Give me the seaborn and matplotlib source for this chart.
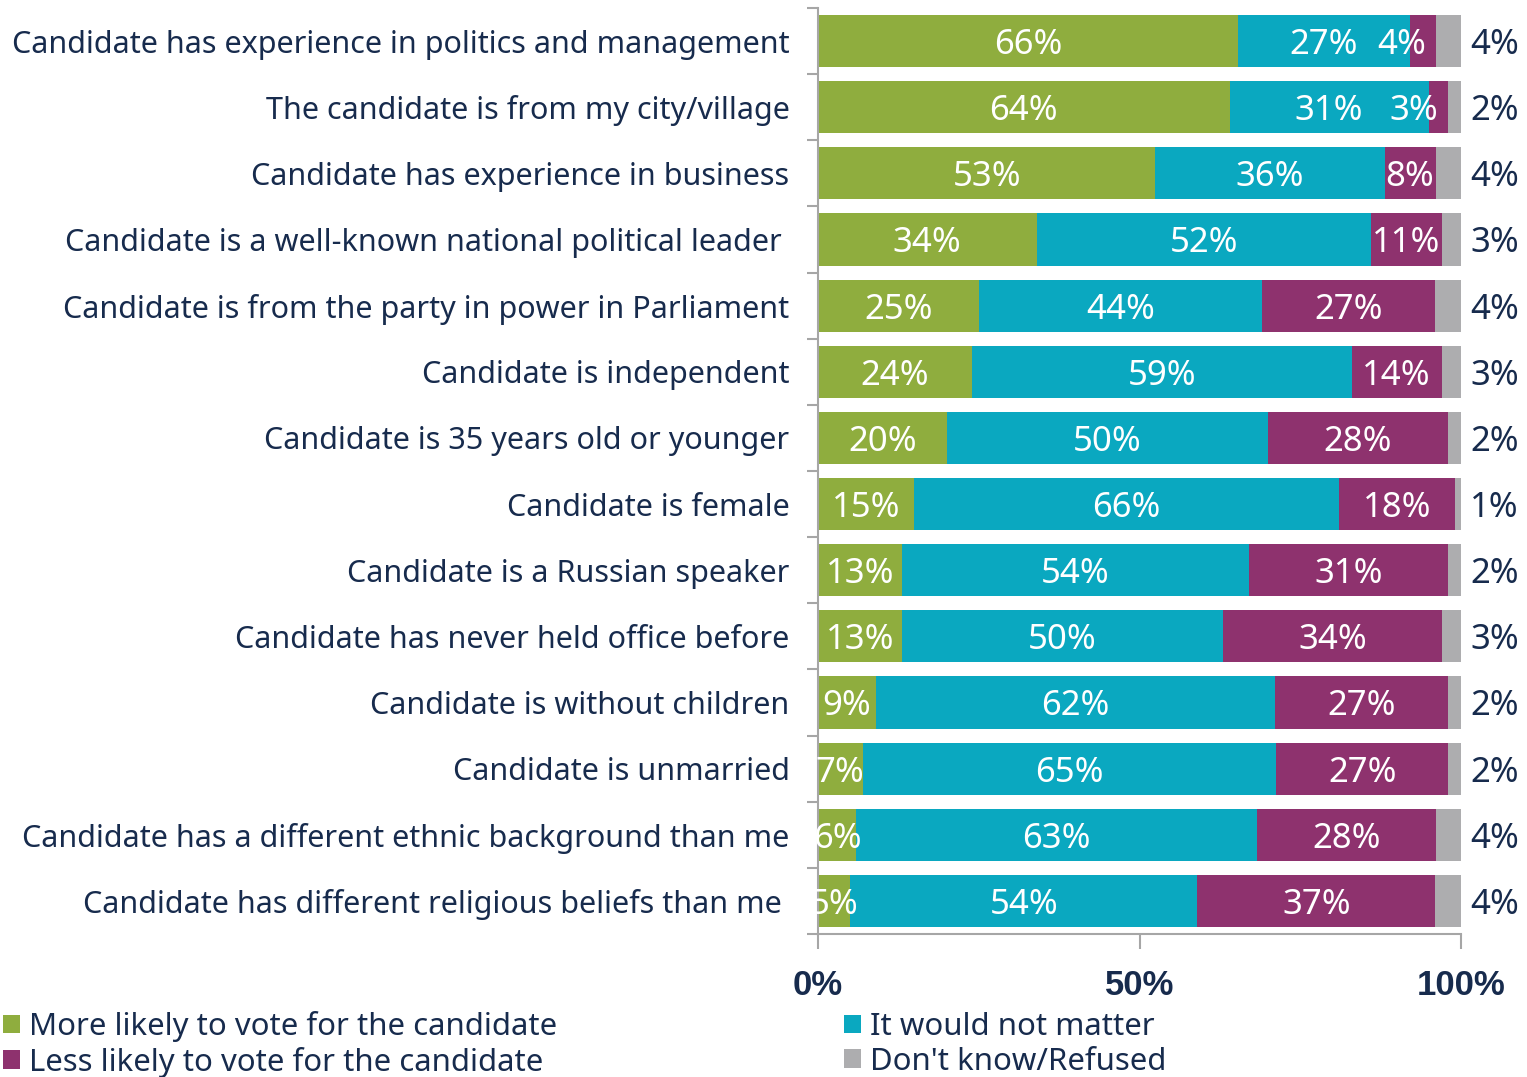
import matplotlib
matplotlib.use("Agg")
import matplotlib.pyplot as plt
from matplotlib.patches import Patch
import numpy as np
import pandas as pd
import seaborn as sns

# Survey items and response shares (%)
items = [
    "Candidate has experience in politics and management",
    "The candidate is from my city/village",
    "Candidate has experience in business",
    "Candidate is a well-known national political leader ",
    "Candidate is from the party in power in Parliament",
    "Candidate is independent",
    "Candidate is 35 years old or younger",
    "Candidate is female",
    "Candidate is a Russian speaker",
    "Candidate has never held office before",
    "Candidate is without children",
    "Candidate is unmarried",
    "Candidate has a different ethnic background than me",
    "Candidate has different religious beliefs than me ",
]
more_likely = [66, 64, 53, 34, 25, 24, 20, 15, 13, 13, 9, 7, 6, 5]
not_matter = [27, 31, 36, 52, 44, 59, 50, 66, 54, 50, 62, 65, 63, 54]
less_likely = [4, 3, 8, 11, 27, 14, 28, 18, 31, 34, 27, 27, 28, 37]
dont_know = [4, 2, 4, 3, 4, 3, 2, 1, 2, 3, 2, 2, 4, 4]

series_names = [
    "More likely to vote for the candidate",
    "It would not matter",
    "Less likely to vote for the candidate",
    "Don't know/Refused",
]
colors = ["#8fad3e", "#0aa8c0", "#8e326e", "#adadaf"]
navy = "#172b4d"
tick_labels = ["0%", "50%", "100%"]

sns.set_theme(style="white")
plt.rcParams["font.family"] = ["Noto Sans", "DejaVu Sans"]
num_font = ["Noto Sans", "DejaVu Sans"]
bold_font = ["Liberation Sans", "DejaVu Sans"]

raw = np.array([more_likely, not_matter, less_likely, dont_know], dtype=float)
shares = raw / raw.sum(axis=0) * 100  # each bar spans the full width
cum = np.cumsum(shares, axis=0)

df = pd.DataFrame({"item": items})
for k in range(4):
    df[f"c{k}"] = cum[k]

W, H = 1527, 1077
fig = plt.figure(figsize=(W / 100, H / 100), dpi=100)
ax = fig.add_axes([818 / W, 1 - 934 / H, 643 / W, 926 / H])

# stacked bars: draw cumulative totals from the widest layer down
for k in range(3, -1, -1):
    sns.barplot(data=df, x=f"c{k}", y="item", orient="h", color=colors[k],
                saturation=1, width=0.79, linewidth=0, ax=ax)

ax.set_xlim(0, 100)
ax.set_ylim(len(items) - 0.5, -0.5)
ax.set_xlabel("")
ax.set_ylabel("")

# value labels
for i in range(len(items)):
    starts = [0] + list(cum[:, i][:-1])
    for k in range(3):
        s, e = starts[k], cum[k, i]
        val = int(raw[k, i])
        if e - s < 5 and k == 2:
            x, ha = e - 1.5, "right"
        else:
            x, ha = (s + e) / 2, "center"
        ax.text(x, i + 0.06, f"{val}%", ha=ha, va="center", color="white",
                fontsize=25, family=num_font)
    ax.text(105.2, i + 0.06, f"{int(raw[3, i])}%", ha="center", va="center",
            color=navy, fontsize=25, family=num_font, clip_on=False)

# axes styling
for side in ["top", "right"]:
    ax.spines[side].set_visible(False)
for side in ["left", "bottom"]:
    ax.spines[side].set_color("#a6a6a6")
    ax.spines[side].set_linewidth(1.5)

ax.set_xticks([0, 50, 100])
ax.set_xticklabels(tick_labels, fontsize=25, fontweight="bold", color=navy,
                   family=bold_font)
ax.tick_params(axis="x", bottom=True, length=11, width=1.5, color="#a6a6a6",
               pad=14)

ax.set_yticks(range(len(items)))
ax.set_yticklabels(items, fontsize=22, color=navy)
ax.tick_params(axis="y", which="major", left=False, pad=14.5)
ax.set_yticks(np.arange(-0.5, len(items), 1.0), minor=True)
ax.tick_params(axis="y", which="minor", left=True, length=8, width=1.5,
               color="#a6a6a6")

handles = [Patch(facecolor=colors[k], edgecolor="none") for k in (0, 2, 1, 3)]
labels = [series_names[k] for k in (0, 2, 1, 3)]
fig.legend(handles, labels, loc="upper left", bbox_to_anchor=(0.002, 1 - 1011 / H),
           ncol=2, frameon=False, fontsize=22.4, labelcolor=navy,
           handlelength=0.55, handleheight=0.55, handletextpad=0.3,
           labelspacing=0.15, columnspacing=9.2, borderaxespad=0,
           borderpad=0)

fig.savefig("out.png", dpi=100)
